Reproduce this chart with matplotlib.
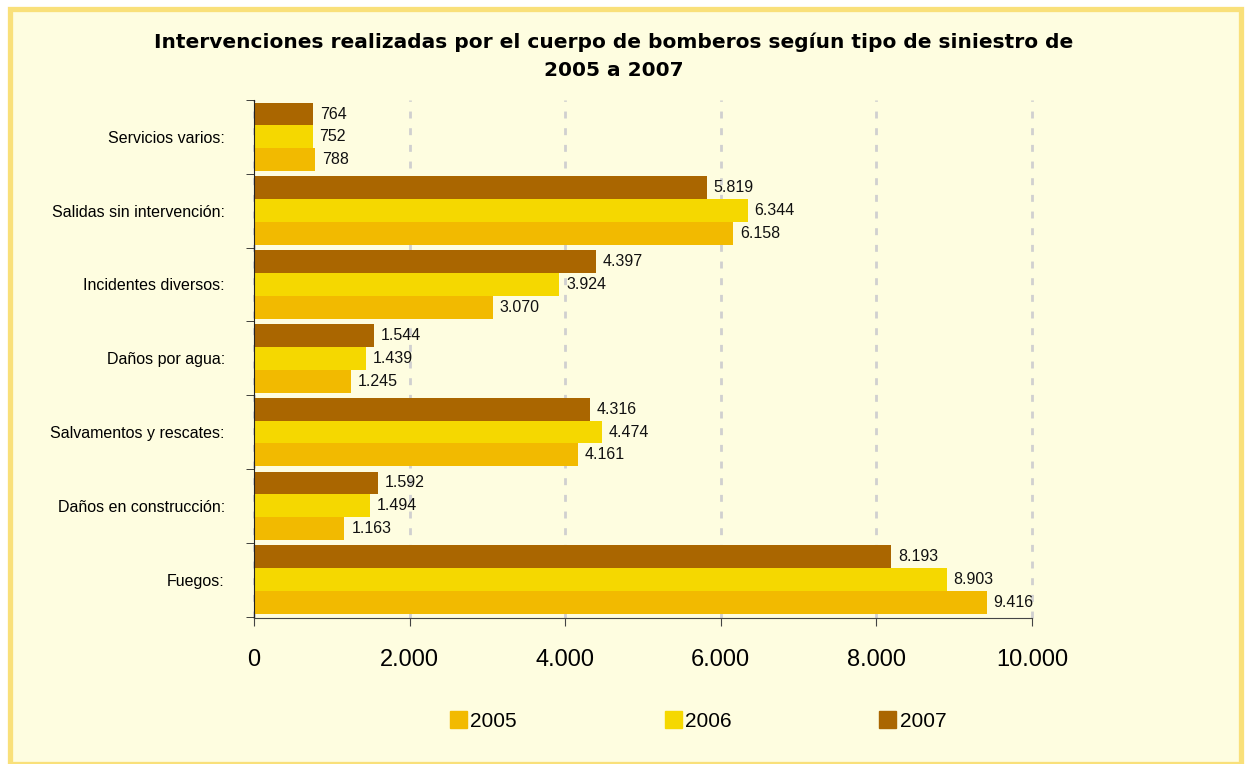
import numpy as np
import matplotlib.pyplot as plt
from matplotlib.patches import Rectangle, Patch

plt.rcParams['font.family'] = ['Liberation Sans', 'DejaVu Sans']

categories = ["Fuegos:", "Daños en construcción:", "Salvamentos y rescates:",
              "Daños por agua:", "Incidentes diversos:", "Salidas sin intervención:",
              "Servicios varios:"]
years = ["2005", "2006", "2007"]
v2005 = [9416, 1163, 4161, 1245, 3070, 6158, 788]
v2006 = [8903, 1494, 4474, 1439, 3924, 6344, 752]
v2007 = [8193, 1592, 4316, 1544, 4397, 5819, 764]
colors = ["#F2BA00", "#F5D800", "#AA6600"]

bg = "#FEFDE0"
fig = plt.figure(figsize=(12.47, 7.64), dpi=100, facecolor="white")
fig.patches.append(Rectangle((9.5 / 1247, 0), 1231 / 1247, 755.5 / 764,
                             transform=fig.transFigure, facecolor=bg,
                             edgecolor="#F9E07A", linewidth=3.8, zorder=-1))

ax = fig.add_axes([254 / 1247, 1 - 618 / 764, 778 / 1247, 518 / 764])
ax.set_facecolor(bg)

y = np.arange(len(categories))
h = 0.31
for i, (vals, c) in enumerate(zip([v2005, v2006, v2007], colors)):
    pos = y + (i - 1) * h
    ax.barh(pos, vals, height=h, color=c, zorder=2, label=years[i])
    for p, v in zip(pos, vals):
        ax.text(v + 90, p, f"{v:,}".replace(",", "."), va="center", ha="left",
                fontsize=11.5, color="#111111")

ax.set_xlim(0, 10000)
ax.set_ylim(-0.52, 6.46)
xt = np.arange(0, 10001, 2000)
ax.set_xticks(xt)
ax.set_xticklabels([f"{t:,}".replace(",", ".") for t in xt], fontsize=17)
ax.tick_params(axis="x", length=6, pad=16, color="#444444")
ax.set_yticks(y)
ax.set_yticklabels(categories, fontsize=11.5)
ax.set_yticks(np.arange(-0.5, 7, 1), minor=True)
ax.tick_params(axis="y", which="major", length=0, pad=21)
ax.tick_params(axis="y", which="minor", length=6, color="#222222")
ax.xaxis.grid(True, color="#D0D0D0", linestyle=(0, (2.5, 3.5)), linewidth=2, zorder=0)
for gl in ax.get_xgridlines():
    gl.set_clip_on(False)
ax.set_axisbelow(True)
for s in ["top", "right"]:
    ax.spines[s].set_visible(False)
ax.spines["left"].set_color("#222222")
ax.spines["bottom"].set_color("#444444")

title_font = dict(ha="center", va="center", fontsize=14.5, fontweight="bold",
                  family="DejaVu Sans")
fig.text(614 / 1247, 1 - 42 / 764,
         "Intervenciones realizadas por el cuerpo de bomberos segíun tipo de siniestro de",
         **title_font)
fig.text(614 / 1247, 1 - 70 / 764, "2005 a 2007", **title_font)

handles = [Patch(color=c, label=yr) for c, yr in zip(colors, years)]
fig.legend(handles=handles, loc="center", bbox_to_anchor=(698 / 1247, 1 - 721 / 764),
           ncol=3, frameon=False, fontsize=15, handlelength=0.82, handleheight=0.82,
           handletextpad=0.15, columnspacing=7.1)

fig.savefig("out.png", dpi=100, facecolor="white")
